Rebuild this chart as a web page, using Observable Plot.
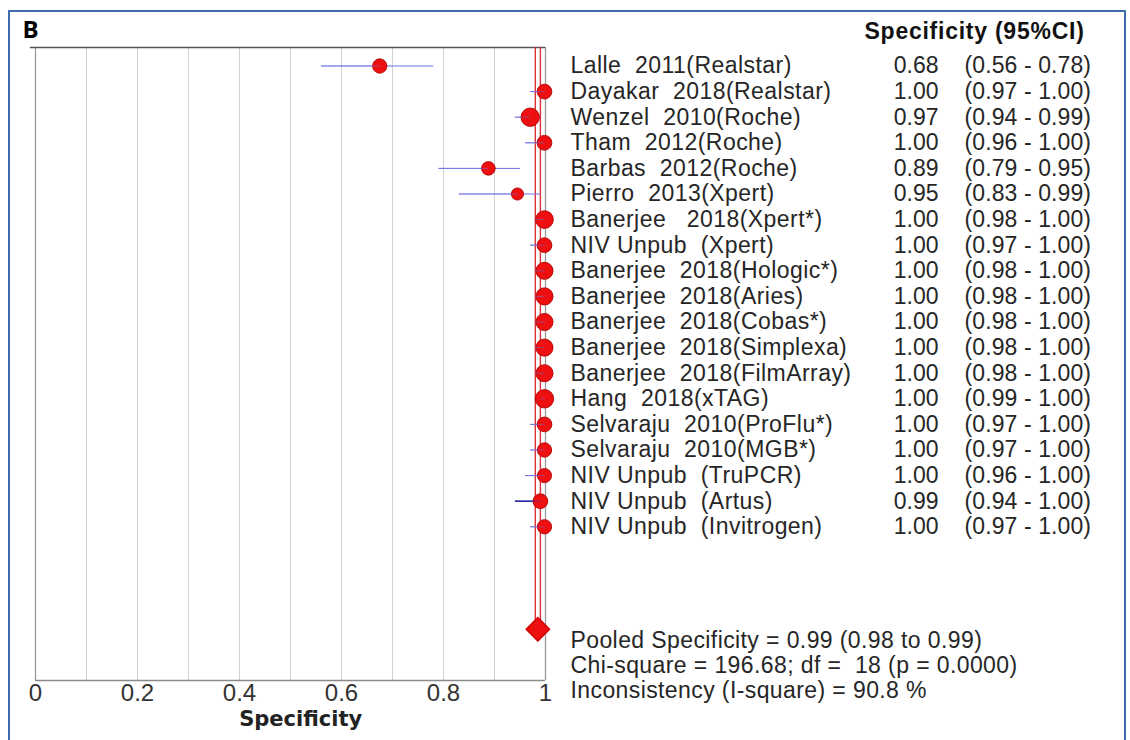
<!DOCTYPE html>
<html>
<head>
<meta charset="utf-8">
<script src="https://cdn.jsdelivr.net/npm/d3@7"></script>
<script src="https://cdn.jsdelivr.net/npm/@observablehq/plot@0.6"></script>
<style>
  html, body { margin: 0; padding: 0; background: #fff; }
  #wrap { position: relative; width: 1130px; height: 740px; overflow: hidden; }
  #border { position: absolute; left: 8px; top: 10px; width: 1118px; height: 760px; border: 2px solid #3f6bb0; box-sizing: border-box; }
  #chart { position: absolute; left: 0; top: 0; }
  svg text { white-space: pre; }
</style>
</head>
<body>
<div id="wrap"><div id="border"></div><div id="chart"></div></div>
<script>
// ---- data ----
const studies = [
  "Lalle  2011(Realstar)", "Dayakar  2018(Realstar)", "Wenzel  2010(Roche)", "Tham  2012(Roche)",
  "Barbas  2012(Roche)", "Pierro  2013(Xpert)", "Banerjee   2018(Xpert*)", "NIV Unpub  (Xpert)",
  "Banerjee  2018(Hologic*)", "Banerjee  2018(Aries)", "Banerjee  2018(Cobas*)", "Banerjee  2018(Simplexa)",
  "Banerjee  2018(FilmArray)", "Hang  2018(xTAG)", "Selvaraju  2010(ProFlu*)", "Selvaraju  2010(MGB*)",
  "NIV Unpub  (TruPCR)", "NIV Unpub  (Artus)", "NIV Unpub  (Invitrogen)"
];
const specificity = [0.675, 0.998, 0.97, 0.998, 0.888, 0.945, 0.998, 0.998, 0.998, 0.998, 0.998, 0.998, 0.998, 0.998, 0.998, 0.998, 0.998, 0.99, 0.998];
const estText = ["0.68", "1.00", "0.97", "1.00", "0.89", "0.95", "1.00", "1.00", "1.00", "1.00", "1.00", "1.00", "1.00", "1.00", "1.00", "1.00", "1.00", "0.99", "1.00"];
const ciLow  = [0.56, 0.97, 0.94, 0.96, 0.79, 0.83, 0.98, 0.97, 0.98, 0.98, 0.98, 0.98, 0.98, 0.99, 0.97, 0.97, 0.96, 0.94, 0.97];
const ciHigh = [0.78, 1.00, 0.99, 1.00, 0.95, 0.99, 1.00, 1.00, 1.00, 1.00, 1.00, 1.00, 1.00, 1.00, 1.00, 1.00, 1.00, 1.00, 1.00];
// relative study weight (marker area)
const weight = [4.9, 5.2, 8.1, 5.2, 4.4, 3.5, 7.5, 5.2, 7.0, 7.0, 7.0, 7.0, 7.0, 8.1, 5.2, 4.9, 4.8, 5.2, 4.9];
const pooled = {est: 0.985, low: 0.98, high: 0.99};
const pooledLines = [pooled.low, pooled.high];
const xTicks = [0, 0.2, 0.4, 0.6, 0.8, 1];
const tickLabels = ["0", "0.2", "0.4", "0.6", "0.8", "1"];
const gridValues = [0.1, 0.2, 0.3, 0.4, 0.5, 0.6, 0.7, 0.8, 0.9];
const headerText = "Specificity (95%CI)";
const footerLines = [
  "Pooled Specificity = 0.99 (0.98 to 0.99)",
  "Chi-square = 196.68; df =  18 (p = 0.0000)",
  "Inconsistency (I-square) = 90.8 %"
];
const panelLetter = "B";
const xLabel = "Specificity";

// ---- layout ----
const W = 1130, H = 740;
const plotTop = 47, plotBottom = 680, firstRow = 65.5, step = 25.6;
const yDomain = [(plotTop - firstRow) / step, (plotBottom - firstRow) / step];
const pooledRow = 22;

const rows = studies.map((s, i) => ({
  study: s, i, est: specificity[i], lo: ciLow[i], hi: ciHigh[i], w: weight[i],
  estLabel: estText[i],
  ciLabel: `(${ciLow[i].toFixed(2)} - ${ciHigh[i].toFixed(2)})`
}));
const footer = footerLines.map((t, k) => ({t, row: pooledRow + 0.45 + k * 0.98}));

const font = "'Liberation Sans', Arial, sans-serif";
const ink = "#262626";

const chart = Plot.plot({
  width: W, height: H,
  marginLeft: 35, marginRight: W - 545, marginTop: plotTop, marginBottom: H - plotBottom,
  style: {fontFamily: font, background: "transparent", overflow: "visible"},
  x: {domain: [0, 1]},
  y: {domain: yDomain, reverse: true, axis: null},
  r: {type: "sqrt", domain: [0, 8.1], range: [0, 9.2]},
  marks: [
    Plot.ruleX(gridValues, {stroke: "#d2d2d2", strokeWidth: 1}),
    Plot.ruleX([0, 1], {stroke: "#9a9a9a", strokeWidth: 1.3}),
    Plot.ruleY([yDomain[0]], {x1: -0.01, x2: 1, stroke: "#555", strokeWidth: 1.5}),
    Plot.ruleY([yDomain[1]], {stroke: "#8a8a8a", strokeWidth: 1.3}),
    Plot.ruleX(pooledLines, {y1: yDomain[0], y2: pooledRow, stroke: "#d9323a", strokeWidth: 1.4}),
    Plot.link(rows, {x1: "lo", x2: "hi", y1: "i", y2: "i",
      stroke: d => d.study.includes("Artus") ? "#2a2aa8" : "#7070e0",
      strokeWidth: d => d.study.includes("Artus") ? 1.6 : 1}),
    Plot.dot(rows, {x: "est", y: "i", r: "w", fill: "#ee1010", stroke: "#b00000", strokeWidth: 0.9}),
    Plot.link(rows.filter(d => d.lo < d.est), {x1: "lo", x2: "est", y1: "i", y2: "i",
      stroke: d => d.study.includes("Artus") ? "#2a2aa8" : "#7070e0", strokeOpacity: 0.5, strokeWidth: 1}),
    Plot.dot([pooled], {x: "est", y: pooledRow, symbol: "diamond2", r: 10.5, fill: "#ee1010", stroke: "#d00000"}),
    Plot.axisX(xTicks, {tickSize: 0, tickPadding: 3, fontSize: 24, fill: "#333",
      tickFormat: (d, k) => tickLabels[k], label: null}),
    // text marks (order matters for spacing below)
    Plot.text([xLabel], {x: 0.52, y: 25.5, fontSize: 21, fontWeight: "bold",
      fontFamily: "'DejaVu Sans', Verdana, sans-serif", fill: "#222"}),
    Plot.text(rows, {x: 1, y: "i", text: "study", dx: 25, textAnchor: "start", fontSize: 23, fill: ink}),
    Plot.text(rows, {x: 1, y: "i", text: "estLabel", dx: 393, textAnchor: "end", fontSize: 23, fill: ink}),
    Plot.text(rows, {x: 1, y: "i", text: "ciLabel", dx: 419, textAnchor: "start", fontSize: 23, fill: ink}),
    Plot.text([headerText], {x: 1, y: -1.36, dx: 319, textAnchor: "start", fontSize: 23, fontWeight: "bold", fill: "#111"}),
    Plot.text(footer, {x: 1, y: "row", text: "t", dx: 25, textAnchor: "start", fontSize: 23, fill: ink}),
    Plot.text([panelLetter], {x: 0, y: -1.38, dx: -13, textAnchor: "start", fontSize: 24, fontWeight: "bold",
      fontFamily: "'Open Sans', Lato, sans-serif", fill: "#000"})
  ]
});
// letter spacing per text group: xLabel, study, est, ci, header, footer, letter
const spacing = [0, 0.45, 0, 0.1, 0.75, 0.4, 0];
chart.querySelectorAll('g[aria-label="text"]').forEach((g, k) => {
  if (spacing[k]) g.setAttribute("letter-spacing", spacing[k]);
});
document.getElementById("chart").appendChild(chart);
</script>
</body>
</html>
